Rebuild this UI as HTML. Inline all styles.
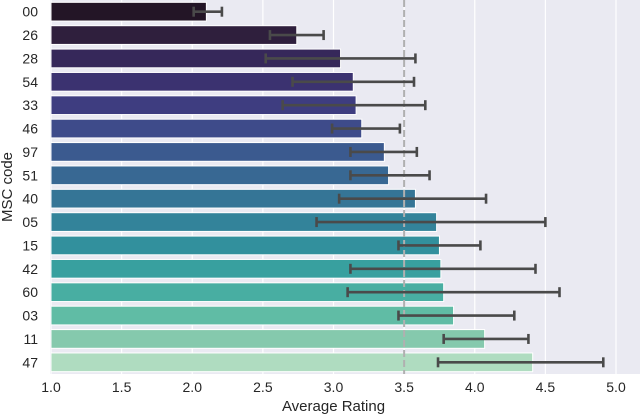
<!DOCTYPE html>
<html><head><meta charset="utf-8"><style>
html,body{margin:0;padding:0;background:#fff;}
svg{display:block;font-family:"Liberation Sans",sans-serif;}
</style></head><body>
<svg id="c" width="640" height="414"></svg>
<script>
const categories=["00","26","28","54","33","46","97","51","40","05","15","42","60","03","11","47"];
const values=[2.10,2.74,3.05,3.14,3.16,3.20,3.36,3.39,3.58,3.73,3.75,3.76,3.78,3.85,4.07,4.41];
const errLow=[2.01,2.55,2.52,2.71,2.64,2.99,3.12,3.12,3.04,2.88,3.46,3.12,3.10,3.46,3.78,3.74];
const errHigh=[2.21,2.93,3.58,3.57,3.65,3.47,3.59,3.68,4.08,4.50,4.04,4.43,4.60,4.28,4.38,4.91];
const xTicks=[1.0,1.5,2.0,2.5,3.0,3.5,4.0,4.5,5.0];
const refLine=3.5;
const colors=["#231526","#2f1f3d","#36285a","#3b3270","#3e3d80","#3e4b8a","#3b5a8f","#386893","#357596","#33839a","#32909d","#38a09f","#48aea2","#60bca5","#85c9ad","#afdcc0"];
const svg=document.getElementById('c');const NS='http://www.w3.org/2000/svg';
const L=50,R=640,T=0,B=374;
const x=v=>51+(v-1)*141.25;
const band=(B-T)/categories.length;
const yc=i=>T+band*(i+0.5);
function mk(t,a,p){const e=document.createElementNS(NS,t);for(const k in a)e.setAttribute(k,a[k]);(p||svg).appendChild(e);return e;}
const bg=mk('rect',{x:L,y:T,width:R-L,height:B-T,fill:'#eaeaf2'});


xTicks.forEach(t=>{
 const g=mk('line',{x1:x(t),x2:x(t),y1:T,y2:B,stroke:'#fff','stroke-width':1.2});
 
 
 const tx=mk('text',{x:x(t),y:392,'text-anchor':'middle','font-size':14,fill:'#262626'});
 tx.textContent=t.toFixed(1);
 
 
});
categories.forEach((c,i)=>{
 const h=band*0.8;
 const b=mk('rect',{x:x(1),y:yc(i)-h/2,width:x(values[i])-x(1),height:h,fill:colors[i],stroke:'#fff','stroke-width':1});
 
 
 const tl=mk('text',{x:38,y:yc(i)+5,'text-anchor':'end','font-size':14,fill:'#262626'});
 tl.textContent=c;
 
 
});
const rl=mk('line',{x1:x(refLine),x2:x(refLine),y1:T,y2:B,stroke:'#b0b0b0','stroke-width':2,'stroke-dasharray':'7,3'});


categories.forEach((c,i)=>{
 const g=mk('g',{stroke:'#4a4a4a','stroke-width':2.6});
 
 
 const y=yc(i);
 mk('line',{x1:x(errLow[i]),x2:x(errHigh[i]),y1:y,y2:y},g);
 mk('line',{x1:x(errLow[i]),x2:x(errLow[i]),y1:y-5,y2:y+5},g);
 mk('line',{x1:x(errHigh[i]),x2:x(errHigh[i]),y1:y-5,y2:y+5},g);
});
const xt=mk('text',{x:x(3),y:411,'text-anchor':'middle','font-size':15,fill:'#262626'});
xt.textContent='Average Rating';


const yt=mk('text',{x:12,y:187,'text-anchor':'middle','font-size':15,fill:'#262626',transform:'rotate(-90 12 187)'});
yt.textContent='MSC code';


</script>
</body></html>
